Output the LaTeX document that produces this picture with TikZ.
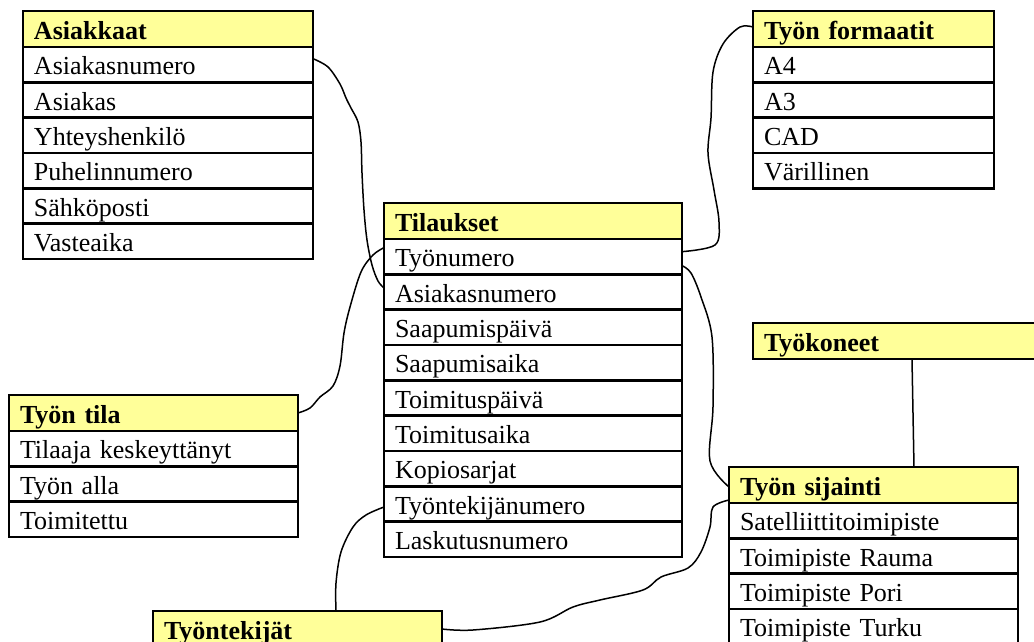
\documentclass[tikz,border=0pt]{standalone}
\usepackage{fontspec}
\setmainfont{Liberation Serif}
\usetikzlibrary{calc}
\definecolor{headyellow}{HTML}{FFFF99}
\tikzset{
  cell/.style={draw, line width=2.4pt, outer sep=0pt, inner xsep=11pt, inner ysep=0pt,
    text width=#1, align=left, anchor=north west,
    text height=27.83pt, text depth=7.5pt, font=\fontsize{26}{30}\selectfont},
  head/.style={cell=#1, fill=headyellow, text height=28.5pt,
    font=\bfseries\fontsize{26}{30}\selectfont},
  link/.style={line width=1.5pt, line join=round, line cap=round},
  wiggle/.style={link, smooth, tension=0.55}
}
\begin{document}
\begin{tikzpicture}[x=1pt, y=-1pt]
\useasboundingbox (0,0) rectangle (1034,642);
\fill[white] (0,0) rectangle (1034,642);
\clip (0,0) rectangle (1034,642);

% Asiakkaat
\node[head=268pt] (as0) at (23,11) {Asiakkaat};
\node[cell=268pt] (as1) at (as0.south west) {Asiakasnumero};
\node[cell=268pt] (as2) at (as1.south west) {Asiakas};
\node[cell=268pt] (as3) at (as2.south west) {Yhteyshenkilö};
\node[cell=268pt] (as4) at (as3.south west) {Puhelinnumero};
\node[cell=268pt] (as5) at (as4.south west) {Sähköposti};
\node[cell=268pt] (as6) at (as5.south west) {Vasteaika};

% Työn formaatit
\node[head=219pt] (fo0) at (753,11) {Työn formaatit};
\node[cell=219pt] (fo1) at (fo0.south west) {A4};
\node[cell=219pt] (fo2) at (fo1.south west) {A3};
\node[cell=219pt] (fo3) at (fo2.south west) {CAD};
\node[cell=219pt] (fo4) at (fo3.south west) {Värillinen};

% Tilaukset
\node[head=276pt] (ti0) at (384,203) {Tilaukset};
\node[cell=276pt] (ti1) at (ti0.south west) {Työnumero};
\node[cell=276pt] (ti2) at (ti1.south west) {Asiakasnumero};
\node[cell=276pt] (ti3) at (ti2.south west) {Saapumispäivä};
\node[cell=276pt] (ti4) at (ti3.south west) {Saapumisaika};
\node[cell=276pt] (ti5) at (ti4.south west) {Toimituspäivä};
\node[cell=276pt] (ti6) at (ti5.south west) {Toimitusaika};
\node[cell=276pt] (ti7) at (ti6.south west) {Kopiosarjat};
\node[cell=276pt] (ti8) at (ti7.south west) {Työntekijänumero};
\node[cell=276pt] (ti9) at (ti8.south west) {Laskutusnumero};

% Työn tila
\node[head=267pt] (tt0) at (9,395) {Työn tila};
\node[cell=267pt] (tt1) at (tt0.south west) {Tilaaja keskeyttänyt};
\node[cell=267pt] (tt2) at (tt1.south west) {Työn alla};
\node[cell=267pt] (tt3) at (tt2.south west) {Toimitettu};

% Työntekijät
\node[head=267pt] (te0) at (153,611) {Työntekijät};

% Työkoneet
\node[head=275pt] (tk0) at (753,323) {Työkoneet};

% Työn sijainti
\node[head=267pt] (ts0) at (729,467) {Työn sijainti};
\node[cell=267pt] (ts1) at (ts0.south west) {Satelliittitoimipiste};
\node[cell=267pt] (ts2) at (ts1.south west) {Toimipiste Rauma};
\node[cell=267pt] (ts3) at (ts2.south west) {Toimipiste Pori};
\node[cell=267pt] (ts4) at (ts3.south west) {Toimipiste Turku};

% Connectors
\draw[wiggle] plot coordinates {($(as1.east)+(0,-6)$) (328,67) (340,84) (346,98) (351,108)
  (358,122) (361,142) (362,173) (364,210) (367,240) (372,265) (378,281) ($(ti2.west)+(0,-4)$)};
\draw[wiggle] plot coordinates {($(ti1.west)+(0,-9)$) (373,255) (361,272) (350,307) (344,333)
  (340,366) (333,386) (320,397) (310,408) (tt0.east)};
\draw[wiggle] plot coordinates {($(ti1.east)+(0,-5)$) (715,245) (719,222) (714,190) (708,153)
  (711,118) (713,72) (723,44) (740,27) ($(fo0.west)+(0,-2)$)};
\draw[wiggle] plot coordinates {($(ti1.east)+(0,9)$) (691,273) (701,297) (712,337) (713,407)
  (710,461) ($(ts0.west)+(0,2)$)};
\draw[wiggle] plot coordinates {($(ti8.west)+(0,3)$) (366,515) (353,527) (341,552) (336,583)
  ($(te0.north west)+(183,0)$)};
\draw[wiggle] plot coordinates {($(ts0.west)+(0,15)$) (713,507) (710,527) (701,552) (688,568)
  (661,577) (643,590) (600,600) (573,607) (540,622) (473,630) (te0.east)};
\draw[link] ($(tk0.south west)+(159,0)$) -- ($(ts0.north west)+(185,0)$);
\end{tikzpicture}
\end{document}
